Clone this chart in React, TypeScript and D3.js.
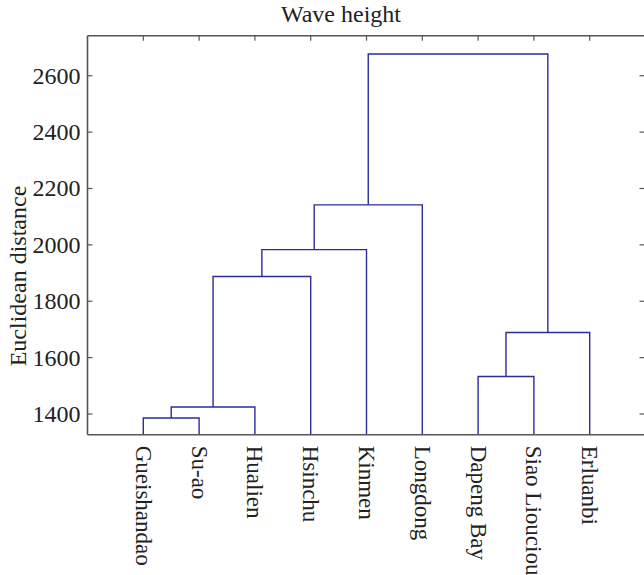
import React from "react";
import * as d3 from "d3";

const leaves = ["Gueishandao", "Su-ao", "Hualien", "Hsinchu", "Kinmen", "Longdong", "Dapeng Bay", "Siao Liouciou", "Erluanbi"];
// merges: [left node, right node, height]; nodes 0..8 are leaves, 9+ are merges
const mergeLeft = [0, 9, 10, 11, 12, 6, 14, 13];
const mergeRight = [1, 2, 3, 4, 5, 7, 8, 15];
const mergeHeight = [1386, 1425, 1888, 1983, 2142, 1533, 1689, 2677];
const yTicks = [1400, 1600, 1800, 2000, 2200, 2400, 2600];

const W = 644, H = 575;
const left = 87.5, right = 645.5, top = 35.7, bottom = 434.7;

export default function App() {
  const x = d3.scaleLinear().domain([0, leaves.length + 1]).range([left, right]);
  const y = d3.scaleLinear().domain([1326.6, 2742]).range([bottom, top]);

  const pos: { x: number; h: number }[] = leaves.map((_, i) => ({ x: i + 1, h: 1326.6 }));
  const links: string[] = [];
  mergeLeft.forEach((l, i) => {
    const r = mergeRight[i];
    const h = mergeHeight[i];
    const a = pos[l], b = pos[r];
    const p = d3.path();
    p.moveTo(x(a.x), y(a.h));
    p.lineTo(x(a.x), y(h));
    p.lineTo(x(b.x), y(h));
    p.lineTo(x(b.x), y(b.h));
    links.push(p.toString());
    pos.push({ x: (a.x + b.x) / 2, h });
  });

  const axisColor = "#555";
  const font = "'Liberation Serif', 'Times New Roman', serif";
  const fs = 24;

  return (
    <svg width={W} height={H} style={{ position: "absolute", left: 0, top: 0, background: "#fff" }}>
      <rect x={0} y={0} width={W} height={H} fill="#fff" />
      {links.map((d, i) => (
        <path key={i} d={d} fill="none" stroke="#2b2b9e" strokeWidth={1.4} />
      ))}
      <line x1={left} x2={right} y1={top} y2={top} stroke={axisColor} strokeWidth={1.6} />
      <line x1={left} x2={right} y1={bottom} y2={bottom} stroke={axisColor} strokeWidth={1.6} />
      <line x1={left} x2={left} y1={top} y2={bottom} stroke={axisColor} strokeWidth={1.6} />
      <line x1={right} x2={right} y1={top} y2={bottom} stroke={axisColor} strokeWidth={1.6} />
      {leaves.map((_, i) => (
        <line key={"tt" + i} x1={x(i + 1)} x2={x(i + 1)} y1={top} y2={top + 5} stroke={axisColor} strokeWidth={1.2} />
      ))}
      {yTicks.map((t) => (
        <g key={"yt" + t}>
          <line x1={left} x2={left + 5} y1={y(t)} y2={y(t)} stroke={axisColor} strokeWidth={1.2} />
          <line x1={right - 6} x2={right} y1={y(t)} y2={y(t)} stroke={axisColor} strokeWidth={1.2} />
          <text x={left - 7} y={y(t)} textAnchor="end" dominantBaseline="central" fontFamily={font} fontSize={fs} fill="#222">
            {t}
          </text>
        </g>
      ))}
      {leaves.map((name, i) => (
        <text
          key={"lb" + i}
          transform={`translate(${x(i + 1)},${bottom + 11}) rotate(90)`}
          textAnchor="start"
          dominantBaseline="central"
          fontFamily={font}
          fontSize={23}
          fill="#222"
        >
          {name}
        </text>
      ))}
      <text x={341} y={22} textAnchor="middle" fontFamily={font} fontSize={fs} fill="#222">
        Wave height
      </text>
      <text
        transform={`translate(18,276) rotate(-90)`}
        textAnchor="middle"
        dominantBaseline="central"
        fontFamily={font}
        fontSize={fs}
        fill="#222"
      >
        Euclidean distance
      </text>
    </svg>
  );
}
